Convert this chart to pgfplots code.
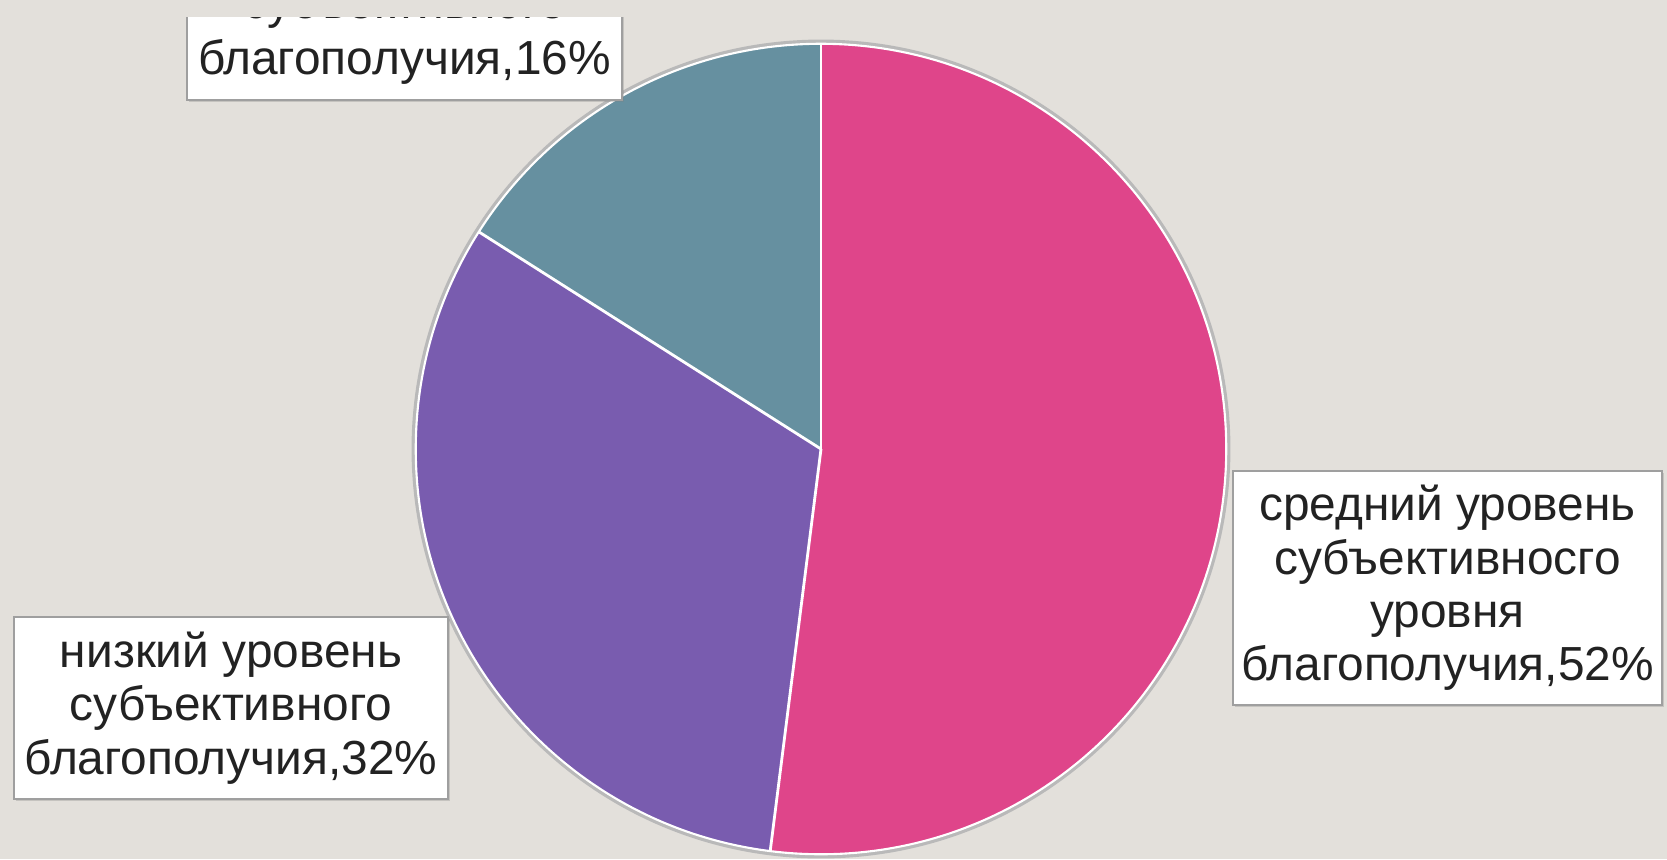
\documentclass[border=0pt]{standalone}
\usepackage{fontspec}
\setmainfont{Liberation Sans}
\usepackage{pgfplots}
\usepackage{pgfplotstable}
\usetikzlibrary{shadows}
\pgfplotsset{compat=1.18}
\definecolor{bgcol}{HTML}{E3E0DB}
\definecolor{piepink}{HTML}{DF458A}
\definecolor{piepurple}{HTML}{795CAF}
\definecolor{pieteal}{HTML}{6690A0}
\definecolor{lbltext}{HTML}{222222}

% shares in percent, clockwise from 12 o'clock
\pgfplotstableread{
share
52
32
16
}\piedata

\begin{document}
\begin{tikzpicture}
\pgfplotstablegetelem{0}{share}\of\piedata \let\sA\pgfplotsretval
\pgfplotstablegetelem{1}{share}\of\piedata \let\sB\pgfplotsretval
\pgfplotstablegetelem{2}{share}\of\piedata \let\sC\pgfplotsretval
\pgfmathsetmacro{\aA}{90}
\pgfmathsetmacro{\aB}{\aA-3.6*\sA}
\pgfmathsetmacro{\aC}{\aB-3.6*\sB}
\pgfmathsetmacro{\aD}{\aC-3.6*\sC}
\def\R{4.05cm}
\tikzset{lbl/.style={fill=white, draw=gray!75, line width=0.5pt, align=center,
  inner sep=0pt, text=lbltext, font=\fontsize{13.6}{15.2}\selectfont,
  drop shadow={shadow xshift=0.6pt, shadow yshift=-0.6pt, opacity=0.3}}}
\begin{axis}[
  x=0.01cm, y=0.01cm,
  xmin=0, xmax=1667, ymin=0, ymax=859,
  hide axis, clip=true,
]
\coordinate (ll) at (axis cs:0,0);
\coordinate (ur) at (axis cs:1667,859);
\fill[bgcol] (axis cs:0,0) rectangle (axis cs:1667,859);
% pie
\fill[gray!55] (axis cs:821,410) circle[radius=\R+1.2pt];
\fill[piepink] (axis cs:821,410) -- ++(\aA:\R) arc[start angle=\aA, end angle=\aB, radius=\R] -- cycle;
\fill[piepurple] (axis cs:821,410) -- ++(\aB:\R) arc[start angle=\aB, end angle=\aC, radius=\R] -- cycle;
\fill[pieteal] (axis cs:821,410) -- ++(\aC:\R) arc[start angle=\aC, end angle=\aD, radius=\R] -- cycle;
\draw[white, line width=0.8pt] (axis cs:821,410) -- ++(\aA:\R);
\draw[white, line width=0.8pt] (axis cs:821,410) -- ++(\aB:\R);
\draw[white, line width=0.8pt] (axis cs:821,410) -- ++(\aC:\R);
\draw[white, line width=0.6pt] (axis cs:821,410) circle[radius=\R];
% labels
\node[lbl, minimum width=4.29cm, minimum height=2.34cm] at (axis cs:1447.5,271)
  {средний уровень\\субъективносго\\уровня\\благополучия,52\%};
\node[lbl, minimum width=4.34cm, minimum height=1.82cm] at (axis cs:231,151)
  {низкий уровень\\субъективного\\благополучия,32\%};
\begin{scope}
\clip (axis cs:0,0) rectangle (axis cs:1667,842);
\node[lbl, minimum width=4.35cm, minimum height=1.86cm] at (axis cs:404.5,852)
  {высокий уровень\\субъективного\\[0.5pt]благополучия,16\%};
\end{scope}
\end{axis}
\pgfresetboundingbox
\path (ll) rectangle (ur);
\end{tikzpicture}
\end{document}
